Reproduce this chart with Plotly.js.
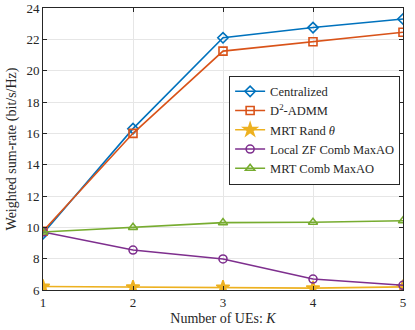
<!DOCTYPE html>
<html>
<head>
<meta charset="utf-8">
<script src="https://cdn.plot.ly/plotly-3.0.1.min.js"></script>
<style>body{margin:0;background:#fff}</style>
</head>
<body>
<div id="chart" style="width:415px;height:330px"></div>
<script>
// number of UEs
var ues = [1, 2, 3, 4, 5];

var centralized = [9.6, 16.3, 22.1, 22.75, 23.3];
var admm = [9.75, 16.0, 21.25, 21.85, 22.45];
var mrtRand = [6.22, 6.18, 6.17, 6.12, 6.2];
var localZF = [9.7, 8.55, 7.98, 6.7, 6.3];
var mrtComb = [9.7, 10.0, 10.3, 10.32, 10.42];

var names = ['Centralized', 'D<sup>2</sup>-ADMM', 'MRT Rand <i>θ</i>', 'Local ZF Comb MaxAO', 'MRT Comb MaxAO'];
var colors = ['#0072BD', '#D95319', '#EDB120', '#7E2F8E', '#77AC30'];
var symbols = ['diamond-open', 'square-open', 'star', 'circle-open', 'triangle-up-open'];
var series = [centralized, admm, mrtRand, localZF, mrtComb];

var serif = '"Liberation Serif", "Times New Roman", "DejaVu Serif", serif';

var data = [];
series.forEach(function(ys, i) {
    data.push({
        x: ues,
        y: ys,
        name: names[i],
        type: 'scatter',
        mode: 'lines+markers',
        line: { color: colors[i], width: 1.6 },
        marker: {
            symbol: symbols[i],
            size: symbols[i] == 'star' ? 10 : 8,
            color: colors[i],
            line: { color: colors[i], width: 1.6 }
        }
    });
});

var axisStyle = {
    showline: true,
    mirror: 'ticks',
    linecolor: '#262626',
    linewidth: 1,
    ticks: 'inside',
    ticklen: 4,
    tickcolor: '#262626',
    showgrid: true,
    gridcolor: '#e6e6e6',
    zeroline: false,
    tickfont: { family: serif, size: 13, color: '#262626' }
};

var layout = {
    width: 415,
    height: 330,
    margin: { l: 43, r: 12, t: 8, b: 40 },
    paper_bgcolor: '#fff',
    plot_bgcolor: '#fff',
    font: { family: serif, color: '#262626' },
    showlegend: true,
    legend: {
        x: 0.517, y: 0.76, xanchor: 'left', yanchor: 'top',
        bgcolor: '#fff',
        bordercolor: '#262626',
        borderwidth: 1,
        font: { family: serif, size: 12.5, color: '#262626' },
        tracegroupgap: 0,
        itemwidth: 30
    },
    xaxis: Object.assign({}, axisStyle, {
        range: [1, 5],
        dtick: 1,
        title: { text: 'Number of UEs: <i>K</i>', font: { family: serif, size: 14 }, standoff: 4 }
    }),
    yaxis: Object.assign({}, axisStyle, {
        range: [6, 24],
        dtick: 2,
        title: { text: 'Weighted sum-rate (bit/s/Hz)', font: { family: serif, size: 14 }, standoff: 6 }
    })
};

Plotly.newPlot('chart', data, layout, { displayModeBar: false });
</script>
</body>
</html>
